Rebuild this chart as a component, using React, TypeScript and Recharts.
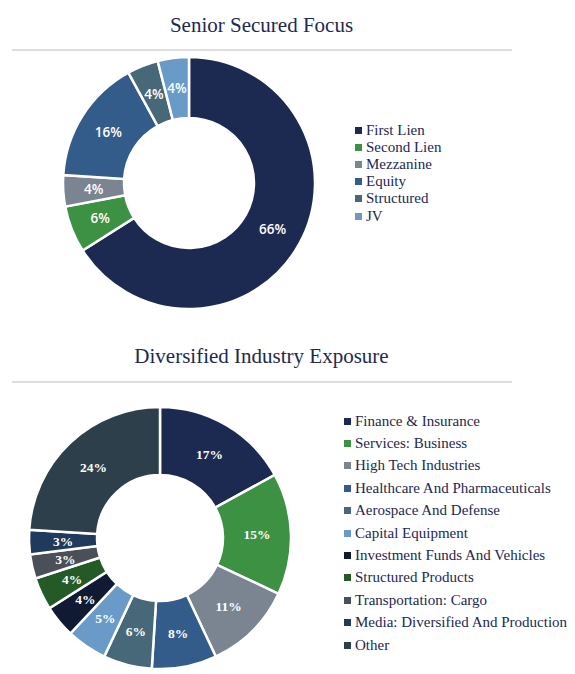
import React from "react";
import { PieChart, Pie, Cell } from "recharts";

const lienNames = ["First Lien", "Second Lien", "Mezzanine", "Equity", "Structured", "JV"];
const lienValues = [66, 6, 4, 16, 4, 4];
const lienColors = ["#1c2951", "#3d9142", "#7a8591", "#335c8a", "#476878", "#6a9bc8"];

const industryNames = [
  "Finance & Insurance",
  "Services: Business",
  "High Tech Industries",
  "Healthcare And Pharmaceuticals",
  "Aerospace And Defense",
  "Capital Equipment",
  "Investment Funds And Vehicles",
  "Structured Products",
  "Transportation: Cargo",
  "Media: Diversified And Production",
  "Other",
];
const industryValues = [17, 15, 11, 8, 6, 5, 4, 4, 3, 3, 24];
const industryColors = [
  "#1c2951", "#3d9142", "#7a8591", "#335c8a", "#476878", "#6a9bc8",
  "#111a33", "#235a25", "#4a5057", "#1f3a5a", "#2c3f4a",
];

const navy = "#1c2951";
const serif = "'Times New Roman', Tinos, 'Liberation Serif', 'DejaVu Serif Condensed', serif";

const RAD = Math.PI / 180;

function makeLabel(font: string, size: number, weight: number) {
  return (props: any) => {
    const { cx, cy, midAngle, innerRadius, outerRadius, value } = props;
    const r = (innerRadius + outerRadius) / 2;
    const x = cx + r * Math.cos(-midAngle * RAD);
    const y = cy + r * Math.sin(-midAngle * RAD);
    return (
      <text x={x} y={y} fill="#fff" fontFamily={font} fontSize={size} fontWeight={weight}
        textAnchor="middle" dominantBaseline="central">
        {value}%
      </text>
    );
  };
}

function Legend({ names, colors, left, top, step }: any) {
  return (
    <div style={{ position: "absolute", left, top }}>
      {names.map((n: string, i: number) => (
        <div key={n} style={{ position: "absolute", top: i * step, left: 0, whiteSpace: "nowrap",
          display: "flex", alignItems: "center", height: 18 }}>
          <span style={{ width: 7, height: 7, background: colors[i], display: "inline-block", marginRight: 4 }} />
          <span style={{ fontFamily: serif, fontSize: 15, color: navy }}>{n}</span>
        </div>
      ))}
    </div>
  );
}

function Title({ text, top, lineTop }: any) {
  return (
    <>
      <div style={{ position: "absolute", top, left: 0, width: 523, textAlign: "center",
        fontFamily: serif, fontSize: 21, color: navy }}>{text}</div>
      <div style={{ position: "absolute", top: lineTop, left: 12, width: 500, height: 2, background: "#dedede" }} />
    </>
  );
}

export default function App() {
  const lienData = lienNames.map((name, i) => ({ name, value: lienValues[i] }));
  const industryData = industryNames.map((name, i) => ({ name, value: industryValues[i] }));

  return (
    <div style={{ position: "absolute", left: 0, top: 0, width: 575, height: 674, background: "#fff" }}>
      <Title text="Senior Secured Focus" top={13} lineTop={49} />
      <div style={{ position: "absolute", left: 0, top: 0 }}>
        <PieChart width={360} height={320}>
          <Pie data={lienData} dataKey="value" cx={184} cy={178} innerRadius={65} outerRadius={126}
            startAngle={90} endAngle={-270} stroke="#fff" strokeWidth={2.5}
            isAnimationActive={false} labelLine={false}
            label={makeLabel("'Open Sans', sans-serif", 13.5, 600)}>
            {lienData.map((d, i) => <Cell key={d.name} fill={lienColors[i]} />)}
          </Pie>
        </PieChart>
      </div>
      <Legend names={lienNames} colors={lienColors} left={355} top={121} step={17.2} />

      <Title text="Diversified Industry Exposure" top={344} lineTop={381} />
      <div style={{ position: "absolute", left: 0, top: 390 }}>
        <PieChart width={320} height={284}>
          <Pie data={industryData} dataKey="value" cx={155} cy={143} innerRadius={63} outerRadius={131}
            startAngle={90} endAngle={-270} stroke="#fff" strokeWidth={2.5}
            isAnimationActive={false} labelLine={false}
            label={makeLabel(serif, 13.5, 700)}>
            {industryData.map((d, i) => <Cell key={d.name} fill={industryColors[i]} />)}
          </Pie>
        </PieChart>
      </div>
      <Legend names={industryNames} colors={industryColors} left={344} top={412} step={22.4} />
    </div>
  );
}
